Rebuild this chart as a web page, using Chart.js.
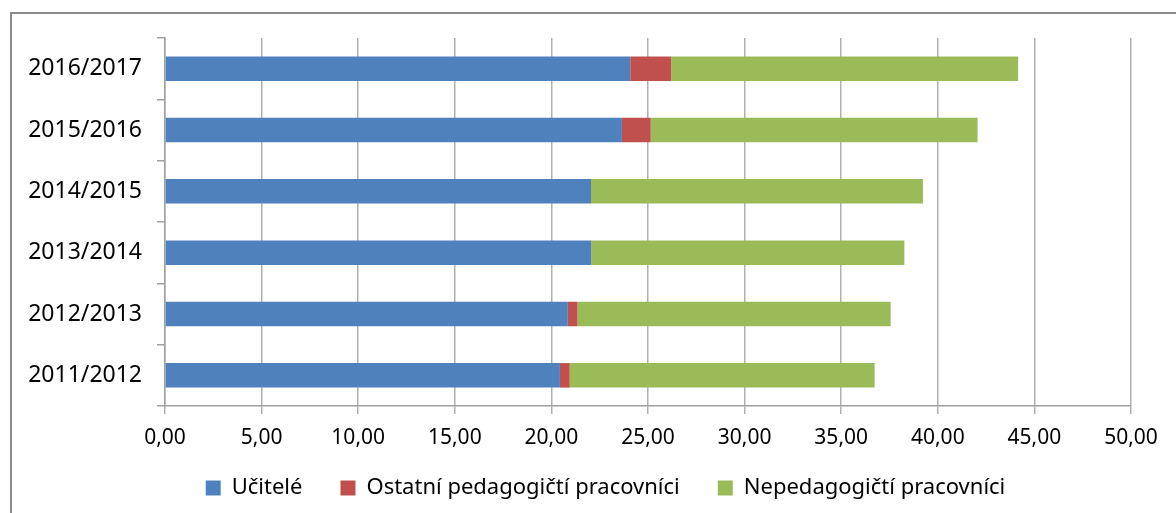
<!DOCTYPE html>
<html>
<head>
<meta charset="utf-8">
<script src="https://cdn.jsdelivr.net/npm/chart.js@4"></script>
<style>
  html, body { margin: 0; padding: 0; background: #fff; }
  #wrap { position: relative; width: 1176px; height: 513px; overflow: hidden; }
  #frame { position: absolute; left: 10px; top: 12px; width: 1300px; height: 700px;
           border-left: 2px solid #8a8a8a; border-top: 2px solid #8a8a8a; }
  canvas { position: absolute; left: 0; top: 0; }
</style>
</head>
<body>
<div id="wrap">
  <div id="frame"></div>
  <canvas id="chart" width="1176" height="513"></canvas>
</div>
<script>
// school years, top to bottom
const years = ['2016/2017', '2015/2016', '2014/2015', '2013/2014', '2012/2013', '2011/2012'];

const ucitele = [24.08, 23.65, 22.05, 22.06, 20.85, 20.44];
const ostatni = [2.12, 1.49, 0, 0, 0.50, 0.51];
const nepedagogicti = [17.96, 16.92, 17.18, 16.21, 16.21, 15.78];

const seriesNames = ['Učitelé', 'Ostatní pedagogičtí pracovníci', 'Nepedagogičtí pracovníci'];
const colors = ['#4F81BD', '#C0504D', '#9BBB59'];

const xMin = 0, xMax = 50, xStep = 5;

const fontFamily = '"Noto Sans", "Open Sans", sans-serif';

// the legend sits a bit right of centre and a bit higher in the original
const shiftLegend = {
    id: 'shiftLegend',
    afterLayout(chart) {
        chart.legend.left += 40;
        chart.legend.right += 40;
        chart.legend.top -= 9;
        chart.legend.bottom -= 9;
    }
};

const ctx = document.getElementById('chart').getContext('2d');
const chart = new Chart(ctx, {
    type: 'bar',
    data: {
        labels: years,
        datasets: [ucitele, ostatni, nepedagogicti].map((d, i) => ({
            label: seriesNames[i],
            data: d,
            backgroundColor: colors[i],
            borderWidth: 0,
            barPercentage: 0.4,
            categoryPercentage: 1.0
        }))
    },
    options: {
        indexAxis: 'y',
        responsive: false,
        animation: false,
        layout: { padding: { top: 38, right: 45, left: 0, bottom: -5 } },
        scales: {
            x: {
                stacked: true,
                min: xMin,
                max: xMax,
                ticks: {
                    stepSize: xStep,
                    color: '#000',
                    padding: 11,
                    font: { family: fontFamily, size: 21 },
                    callback: v => v.toFixed(2).replace('.', ',')
                },
                grid: { color: '#b0b0b0', lineWidth: 1.5, tickLength: 8 },
                border: { color: '#a0a0a0', width: 1.5 },
                afterFit: s => { s.height = 42; }
            },
            y: {
                stacked: true,
                ticks: {
                    color: '#000',
                    padding: 15,
                    font: { family: fontFamily, size: 23 }
                },
                grid: { drawOnChartArea: false, offset: true, color: '#a0a0a0', lineWidth: 1.5, tickLength: 8 },
                border: { color: '#a0a0a0', width: 1.5 },
                afterFit: s => { s.width = 165; }
            }
        },
        plugins: {
            legend: {
                position: 'bottom',
                labels: {
                    color: '#000',
                    boxWidth: 15,
                    boxHeight: 15,
                    padding: 38,
                    font: { family: fontFamily, size: 22 }
                }
            },
            tooltip: { enabled: false }
        }
    },
    plugins: [shiftLegend]
});
</script>
</body>
</html>
